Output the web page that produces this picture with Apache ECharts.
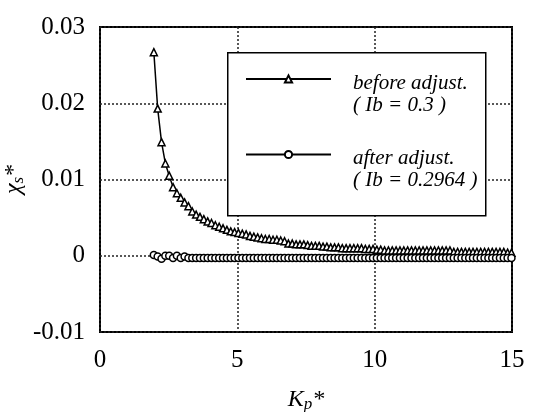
<!DOCTYPE html>
<html>
<head>
<meta charset="utf-8">
<script src="https://cdn.jsdelivr.net/npm/echarts@6/dist/echarts.min.js"></script>
<style>html,body{margin:0;padding:0;background:#fff}#c{width:542px;height:412px}</style>
</head>
<body>
<div id="c"></div>
<script>
// Kp* values
var kp = [1.96, 2.10, 2.24, 2.38, 2.52, 2.66, 2.80, 2.94, 3.08, 3.22,
  3.36, 3.50, 3.64, 3.78, 3.92, 4.06, 4.20, 4.34, 4.48, 4.62,
  4.76, 4.90, 5.04, 5.18, 5.32, 5.46, 5.60, 5.74, 5.88, 6.02,
  6.16, 6.30, 6.44, 6.58, 6.72, 6.86, 7.00, 7.14, 7.28, 7.42,
  7.56, 7.70, 7.84, 7.98, 8.12, 8.26, 8.40, 8.54, 8.68, 8.82,
  8.96, 9.10, 9.24, 9.38, 9.52, 9.66, 9.80, 9.94, 10.08, 10.22,
  10.36, 10.50, 10.64, 10.78, 10.92, 11.06, 11.20, 11.34, 11.48, 11.62,
  11.76, 11.90, 12.04, 12.18, 12.32, 12.46, 12.60, 12.74, 12.88, 13.02,
  13.16, 13.30, 13.44, 13.58, 13.72, 13.86, 14.00, 14.14, 14.28, 14.42,
  14.56, 14.70, 14.84, 14.98];
// before adjust (Ib = 0.3)
var before = [0.0267, 0.0193, 0.0149, 0.0121, 0.0105, 0.0090, 0.0082, 0.0076, 0.0070, 0.0065,
  0.0058, 0.0054, 0.0051, 0.0048, 0.0045, 0.0043, 0.0040, 0.0038, 0.0036, 0.0034,
  0.0032, 0.0031, 0.0030, 0.0029, 0.0028, 0.0026, 0.0025, 0.0024, 0.0023, 0.0022,
  0.0022, 0.0021, 0.0021, 0.0020, 0.0019, 0.0016, 0.0016, 0.0015, 0.0015, 0.0015,
  0.0014, 0.0013, 0.0013, 0.0013, 0.0012, 0.0012, 0.0011, 0.0011, 0.0011, 0.0010,
  0.0010, 0.0010, 0.0010, 0.0010, 0.0010, 0.0009, 0.0009, 0.0009, 0.0008, 0.0008,
  0.0007, 0.0007, 0.0007, 0.0007, 0.0007, 0.0007, 0.0007, 0.0007, 0.0007, 0.0007,
  0.0007, 0.0007, 0.0007, 0.0007, 0.0007, 0.0007, 0.0007, 0.0007, 0.0005, 0.0005,
  0.0005, 0.0005, 0.0005, 0.0005, 0.0005, 0.0005, 0.0005, 0.0005, 0.0005, 0.0005,
  0.0005, 0.0005, 0.0004, 0.0004];
// after adjust (Ib = 0.2964)
var after = [0.0001, -0.0001, -0.0004, 0.0000, 0.0000, -0.0003, 0.0000, -0.0003, -0.0001, -0.0003,
  -0.0003, -0.0003, -0.0003, -0.0003, -0.0003, -0.0003, -0.0003, -0.0003, -0.0003, -0.0003,
  -0.0003, -0.0003, -0.0003, -0.0003, -0.0003, -0.0003, -0.0003, -0.0003, -0.0003, -0.0003,
  -0.0003, -0.0003, -0.0003, -0.0003, -0.0003, -0.0003, -0.0003, -0.0003, -0.0003, -0.0003,
  -0.0003, -0.0003, -0.0003, -0.0003, -0.0003, -0.0003, -0.0003, -0.0003, -0.0003, -0.0003,
  -0.0003, -0.0003, -0.0003, -0.0003, -0.0003, -0.0003, -0.0003, -0.0003, -0.0003, -0.0003,
  -0.0003, -0.0003, -0.0003, -0.0003, -0.0003, -0.0003, -0.0003, -0.0003, -0.0003, -0.0003,
  -0.0003, -0.0003, -0.0003, -0.0003, -0.0003, -0.0003, -0.0003, -0.0003, -0.0003, -0.0003,
  -0.0003, -0.0003, -0.0003, -0.0003, -0.0003, -0.0003, -0.0003, -0.0003, -0.0003, -0.0003,
  -0.0003, -0.0003, -0.0003, -0.0003];
var xTicks = [0, 5, 10, 15];
var yTicks = [-0.01, 0, 0.01, 0.02, 0.03];
var legendLines = {
  before: ['before adjust.', '( Ib = 0.3 )'],
  after: ['after adjust.', '( Ib = 0.2964 )']
};

function pairs(xs, ys) { return xs.map(function (x, i) { return [x, ys[i]]; }); }

var serif = '"Liberation Serif", "DejaVu Serif", serif';
var chart = echarts.init(document.getElementById('c'), null, { renderer: 'canvas' });
var splitStyle = { show: true, lineStyle: { color: '#222', width: 1.5, type: [2, 2] } };

chart.setOption({
  backgroundColor: '#fff',
  animation: false,
  grid: { left: 100, right: 30, top: 27, bottom: 80, containLabel: false, outerBoundsMode: 'none',
    show: true, borderColor: '#000', borderWidth: 2, backgroundColor: 'transparent' },
  xAxis: {
    type: 'value', min: xTicks[0], max: xTicks[xTicks.length - 1], interval: 5,
    axisLine: { show: false }, axisTick: { show: false },
    splitLine: splitStyle,
    axisLabel: { fontFamily: serif, fontSize: 25, color: '#000', margin: 16 },
    name: '{a|K}{b|p}{a|*}', nameLocation: 'middle', nameGap: 55, nameMoveOverlap: false,
    nameTextStyle: {
      rich: {
        a: { fontFamily: serif, fontStyle: 'italic', fontSize: 24, color: '#000' },
        b: { fontFamily: serif, fontStyle: 'italic', fontSize: 17, color: '#000', padding: [9, 0, 0, 0] }
      }
    }
  },
  yAxis: {
    type: 'value', min: yTicks[0], max: yTicks[yTicks.length - 1], interval: 0.01,
    axisLine: { show: false }, axisTick: { show: false },
    splitLine: splitStyle,
    axisLabel: { fontFamily: serif, fontSize: 25, color: '#000', margin: 15,
      formatter: function (v) { return v === 0 ? '0' : String(Math.round(v * 100) / 100); } },
    name: '{a|χ}{b|s}{a|*}', nameLocation: 'middle', nameGap: 73, nameRotate: 90, nameMoveOverlap: false,
    nameTextStyle: {
      rich: {
        a: { fontFamily: serif, fontStyle: 'italic', fontSize: 24, color: '#000' },
        b: { fontFamily: serif, fontStyle: 'italic', fontSize: 17, color: '#000', padding: [9, 0, 0, 0] }
      }
    }
  },
  legend: {
    orient: 'vertical', left: 245, top: 42, padding: 0, itemGap: 2,
    itemWidth: 85, itemHeight: 9,
    data: ['before', 'after'],
    formatter: function (name) {
      var l = legendLines[name];
      return '{s| }\n{a|' + l[0] + '}\n{a|' + l[1] + '}';
    },
    textStyle: {
      rich: {
        s: { height: 30, lineHeight: 30, fontSize: 10 },
        a: { fontFamily: serif, fontStyle: 'italic', fontSize: 21, lineHeight: 22, color: '#000', padding: [0, 0, 0, 17] }
      }
    }
  },
  graphic: [{
    type: 'rect', left: 227, top: 52, z: 3,
    shape: { width: 258, height: 163 },
    style: { fill: '#fff', stroke: '#000', lineWidth: 1.5 }
  }],
  series: [{
    name: 'before', type: 'line', data: pairs(kp, before),
    symbol: 'triangle', symbolSize: 7, showSymbol: true,
    lineStyle: { color: '#000', width: 1.5 },
    itemStyle: { color: '#fff', borderColor: '#000', borderWidth: 1.5 },
    z: 5
  }, {
    name: 'after', type: 'line', data: pairs(kp, after),
    symbol: 'circle', symbolSize: 7, showSymbol: true,
    lineStyle: { color: '#000', width: 1.5 },
    itemStyle: { color: '#fff', borderColor: '#000', borderWidth: 1.5 },
    z: 5
  }]
});
</script>
</body>
</html>
